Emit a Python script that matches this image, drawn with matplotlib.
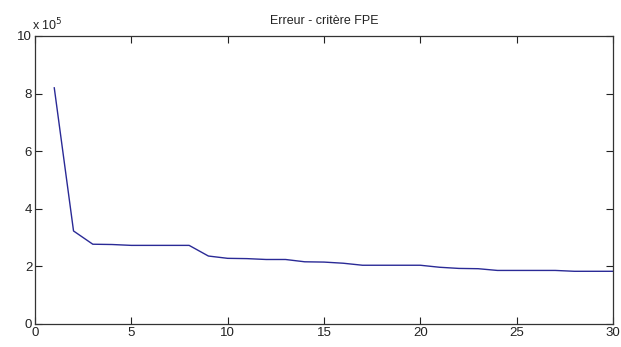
import numpy as np
import matplotlib
matplotlib.use("Agg")
import matplotlib.pyplot as plt
from matplotlib.ticker import FuncFormatter

# FPE error per model order (units of 1)
orders = list(range(1, 31))
fpe = [8.20e5, 3.23e5, 2.77e5, 2.76e5, 2.73e5, 2.73e5, 2.73e5, 2.73e5, 2.36e5, 2.28e5,
       2.27e5, 2.24e5, 2.24e5, 2.16e5, 2.15e5, 2.11e5, 2.04e5, 2.04e5, 2.04e5, 2.04e5,
       1.97e5, 1.93e5, 1.92e5, 1.86e5, 1.86e5, 1.86e5, 1.86e5, 1.83e5, 1.83e5, 1.83e5]

xticks = [0, 5, 10, 15, 20, 25, 30]
yticks = [0, 2e5, 4e5, 6e5, 8e5, 10e5]

plt.rcParams['font.family'] = ['Liberation Sans', 'DejaVu Sans']

fig = plt.figure(figsize=(6.21, 3.47), dpi=100)
ax = fig.add_axes([35 / 621, 23 / 347, 578 / 621, 288 / 347])

ax.plot(orders, fpe, color='#2a2a96', linewidth=1.0)

ax.set_xlim(0, 30)
ax.set_ylim(0, 10e5)
ax.set_xticks(xticks)
ax.set_yticks(yticks)
ax.yaxis.set_major_formatter(FuncFormatter(lambda v, p: '%g' % (v / 1e5)))

ax.tick_params(direction='in', top=True, right=True, length=5, width=0.8,
               labelsize=9.5, colors='#222222', pad=2)
for s in ax.spines.values():
    s.set_linewidth(0.9)
    s.set_color('#333333')

ax.text(-0.005, 1.008, r'x 10$^5$', transform=ax.transAxes, fontsize=9,
        ha='left', va='bottom', color='#222222')
ax.set_title('Erreur - critère FPE', fontsize=9, pad=9, color='#222222')

fig.savefig('out.png', dpi=100)
